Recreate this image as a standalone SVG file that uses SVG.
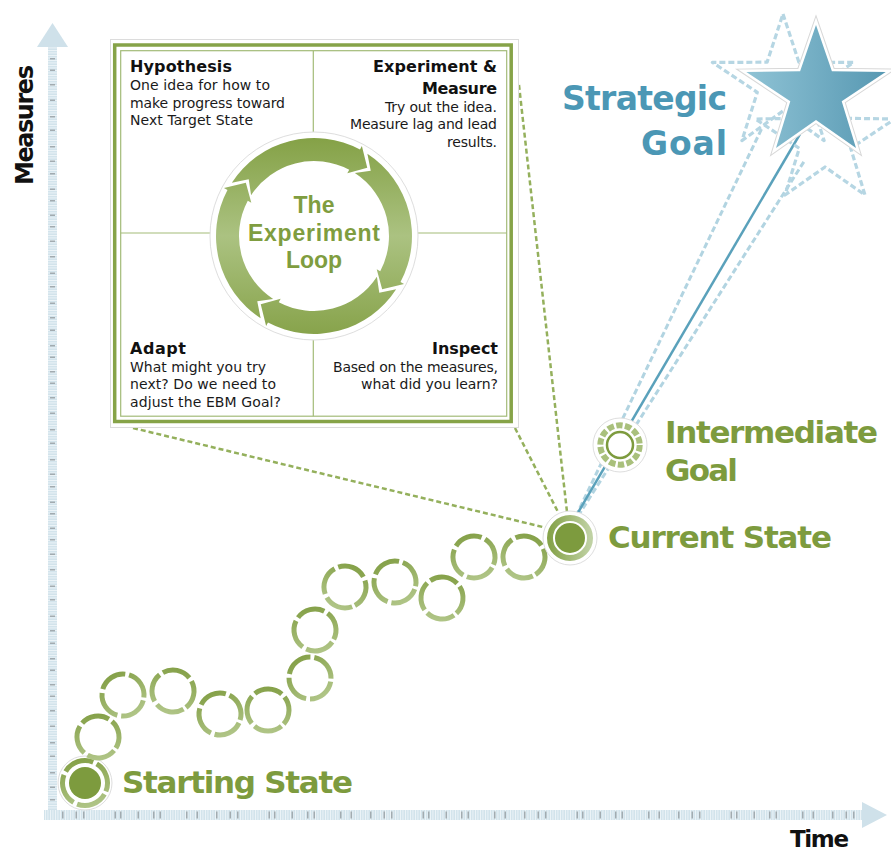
<svg xmlns="http://www.w3.org/2000/svg" width="891" height="852" viewBox="0 0 891 852">
<defs>
<style>
.hd{font-family:"DejaVu Sans",sans-serif;font-weight:bold;font-size:16px;fill:#111}
.bd{font-family:"DejaVu Sans",sans-serif;font-size:14px;fill:#1a1a1a}
.big{font-family:"DejaVu Sans",sans-serif;font-weight:bold;fill:#7d9b3e}
.loopt{font-family:"Liberation Sans",Arial,sans-serif;font-weight:bold;font-size:23px;fill:#7f9d40}
.blue{font-family:"DejaVu Sans",sans-serif;font-weight:bold;fill:#4b97b5;font-size:33px}
.ax{font-family:"DejaVu Sans",sans-serif;font-weight:bold;fill:#111}
.gdash{fill:none;stroke:#94b05c;stroke-width:2.5;stroke-dasharray:5 3}
.bdash{fill:none;stroke:#b2d4e1;stroke-width:3;stroke-dasharray:6 3}
.dstar{fill:none;stroke:#b6d6e3;stroke-width:3.2;stroke-dasharray:6 3;stroke-linejoin:round}
.div{stroke:#a3bb78;stroke-width:1.2;fill:none}
.halo{fill:#fff;stroke:#dedede;stroke-width:1}
.dark{fill:#7d9b3e}
</style>
<linearGradient id="ringGrad" x1="0" y1="0" x2="1" y2="1">
<stop offset="0" stop-color="#7f9c40"/><stop offset="1" stop-color="#b6ca90"/>
</linearGradient>
<linearGradient id="loopGrad" gradientUnits="userSpaceOnUse" x1="0" y1="134" x2="0" y2="338">
<stop offset="0" stop-color="#83a044"/><stop offset="0.5" stop-color="#abc281"/><stop offset="1" stop-color="#86a249"/>
</linearGradient>
<linearGradient id="starGrad" x1="0" y1="0" x2="1" y2="0">
<stop offset="0" stop-color="#8fc3d5"/><stop offset="1" stop-color="#5798b2"/>
</linearGradient>
<linearGradient id="curRing" x1="0" y1="0" x2="1" y2="0">
<stop offset="0" stop-color="#86a34a"/><stop offset="1" stop-color="#bfd1a3"/>
</linearGradient>
<pattern id="vstripe" width="10" height="2.5" patternUnits="userSpaceOnUse"><rect width="10" height="2.5" fill="#d2e3eb"/><rect width="10" height="0.9" fill="#eef5f8"/></pattern>
<pattern id="hstripe" width="2.5" height="10" patternUnits="userSpaceOnUse"><rect width="2.5" height="10" fill="#d2e3eb"/><rect width="0.9" height="10" fill="#eef5f8"/></pattern>
<circle id="ring" r="21" fill="none" stroke="url(#ringGrad)" stroke-width="5" stroke-dasharray="29 4"/>
</defs>
<rect width="891" height="852" fill="#fff"/>

<g id="axes">
<rect x="48" y="46" width="9" height="774" fill="url(#vstripe)"/>
<polygon points="37,47 52.5,23 68,47" fill="#cfe1ea"/>
<rect x="44" y="810" width="819" height="10" fill="url(#hstripe)"/>
<polygon points="862,802 887,815 862,828" fill="#cfe1ea"/>
<line x1="52.5" y1="58" x2="52.5" y2="806" stroke="#a2abb0" stroke-width="5" stroke-dasharray="1.5 10 1.5 13 1.5 14 1.5 15 1.5 12 1.5 15 1.5 13 1.5 11 1.5 14 1.5 10 1.5 13"/>
<line x1="62" y1="815" x2="858" y2="815" stroke="#a2abb0" stroke-width="7" stroke-dasharray="1.5 12 1.5 6 1.5 30 1.5 4 1.5 16 1.5 14 1.5 5 1.5 25 1.5 9 1.5 18"/>
<text class="ax" transform="translate(33,125) rotate(-90)" text-anchor="middle" font-size="24" textLength="120">Measures</text>
<text class="ax" x="790" y="847" font-size="23" textLength="59">Time</text>
</g>

<g id="connectors">
<line class="gdash" x1="519" y1="85" x2="567" y2="512"/>
<line class="gdash" x1="515" y1="428" x2="558" y2="512"/>
<line class="gdash" x1="133" y1="428" x2="547" y2="528"/>
<line class="bdash" x1="576" y1="516" x2="762" y2="128"/>
<line class="bdash" x1="578" y1="516" x2="805" y2="160"/>
<line x1="576" y1="516" x2="800" y2="134" stroke="#5aa1bb" stroke-width="2.5"/>
</g>

<g id="experiment-loop">
<rect x="110.5" y="39.5" width="408" height="388" fill="#fff" stroke="#dcdcdc"/>
<rect x="114.7" y="45" width="396.5" height="376.5" fill="none" stroke="#86a348" stroke-width="3.5"/>
<rect x="120.7" y="50.7" width="386" height="365.5" fill="none" stroke="#a3bb78" stroke-width="1.2"/>
<line class="div" x1="313.3" y1="50.7" x2="313.3" y2="416.2"/>
<line class="div" x1="120.7" y1="233" x2="506.7" y2="233"/>
<circle cx="314" cy="236" r="104" fill="#fff" stroke="#dedede"/>
<g fill="url(#loopGrad)">
<path d="M231.81,182.63 A98,98 0 0 1 360.01,149.48 L361.89,145.94 L367.26,167.84 L347.33,173.31 L349.21,169.78 A75,75 0 0 0 251.10,195.15 L248.72,179.25 Z"/>
<path d="M367.37,153.81 A98,98 0 0 1 400.52,282.01 L404.06,283.89 L382.16,289.26 L376.69,269.33 L380.22,271.21 A75,75 0 0 0 354.85,173.10 L370.75,170.72 Z"/>
<path d="M396.19,289.37 A98,98 0 0 1 267.99,322.52 L266.11,326.06 L260.74,304.16 L280.67,298.69 L278.79,302.22 A75,75 0 0 0 376.90,276.85 L379.28,292.75 Z"/>
<path d="M260.63,318.19 A98,98 0 0 1 227.48,189.99 L223.94,188.11 L245.84,182.74 L251.31,202.67 L247.78,200.79 A75,75 0 0 0 273.15,298.90 L257.25,301.28 Z"/>
</g>
<text class="loopt" x="314" y="213" text-anchor="middle">The</text>
<text class="loopt" x="314" y="241" text-anchor="middle" textLength="132">Experiment</text>
<text class="loopt" x="314" y="268" text-anchor="middle">Loop</text>

<text class="hd" x="130" y="72" textLength="102">Hypothesis</text>
<text class="bd" x="130" y="90" textLength="140">One idea for how to</text>
<text class="bd" x="130" y="107.5" textLength="155">make progress toward</text>
<text class="bd" x="130" y="124.5" textLength="123">Next Target State</text>

<text class="hd" x="497" y="72" text-anchor="end" textLength="124">Experiment &amp;</text>
<text class="hd" x="497" y="94" text-anchor="end" textLength="75">Measure</text>
<text class="bd" x="497" y="111.5" text-anchor="end" textLength="112">Try out the idea.</text>
<text class="bd" x="497" y="129" text-anchor="end" textLength="147">Measure lag and lead</text>
<text class="bd" x="497" y="146.5" text-anchor="end" textLength="50">results.</text>

<text class="hd" x="130" y="353.5" textLength="56">Adapt</text>
<text class="bd" x="130" y="371.5" textLength="136">What might you try</text>
<text class="bd" x="130" y="388.5" textLength="146">next? Do we need to</text>
<text class="bd" x="130" y="406.5" textLength="151">adjust the EBM Goal?</text>

<text class="hd" x="498" y="353.5" text-anchor="end" textLength="66">Inspect</text>
<text class="bd" x="498" y="371.5" text-anchor="end" textLength="165">Based on the measures,</text>
<text class="bd" x="498" y="388.5" text-anchor="end" textLength="137">what did you learn?</text>
</g>

<g id="starting-state">
<circle class="halo" cx="85" cy="783" r="27"/>
<circle cx="85" cy="783" r="22.5" fill="none" stroke="url(#ringGrad)" stroke-width="5" stroke-dasharray="31.3 4" transform="rotate(30 85 783)"/>
<circle class="dark" cx="85" cy="783" r="16"/>
<text class="big" x="122" y="793" font-size="31" textLength="231">Starting State</text>
</g>

<g id="steps">
<g id="step-1"><use href="#ring" transform="translate(98,737) rotate(40)"/></g>
<g id="step-2"><use href="#ring" transform="translate(123,695) rotate(15)"/></g>
<g id="step-3"><use href="#ring" transform="translate(173,691) rotate(60)"/></g>
<g id="step-4"><use href="#ring" transform="translate(220,714) rotate(25)"/></g>
<g id="step-5"><use href="#ring" transform="translate(268,710) rotate(50)"/></g>
<g id="step-6"><use href="#ring" transform="translate(310,678) rotate(10)"/></g>
<g id="step-7"><use href="#ring" transform="translate(315,630) rotate(35)"/></g>
<g id="step-8"><use href="#ring" transform="translate(345,587) rotate(70)"/></g>
<g id="step-9"><use href="#ring" transform="translate(395,582) rotate(20)"/></g>
<g id="step-10"><use href="#ring" transform="translate(442,598) rotate(55)"/></g>
<g id="step-11"><use href="#ring" transform="translate(474,557) rotate(30)"/></g>
<g id="step-12"><use href="#ring" transform="translate(524,557) rotate(65)"/></g>
</g>

<g id="current-state">
<circle class="halo" cx="570" cy="538" r="27"/>
<circle cx="570" cy="538" r="20" fill="none" stroke="url(#curRing)" stroke-width="6"/>
<circle class="dark" cx="570" cy="538" r="15"/>
<text class="big" x="608" y="548" font-size="31" textLength="224">Current State</text>
</g>

<g id="intermediate-goal">
<circle class="halo" cx="620" cy="445" r="27"/>
<circle cx="620" cy="445" r="19.7" fill="none" stroke="#a9c07c" stroke-width="6" stroke-dasharray="6.5 2.34"/>
<circle cx="620" cy="445" r="13" fill="#fff" stroke="#7d9b3e" stroke-width="2.5"/>
<text class="big" x="665" y="443" font-size="31" textLength="213">Intermediate</text>
<text class="big" x="665" y="481" font-size="31" textLength="73">Goal</text>
</g>

<g id="strategic-goal">
<polygon class="dstar" points="783,14 798.9,62.2 853.6,62.4 808.7,92.3 824.1,140.6 783,111 741.9,140.6 757.3,92.3 712.4,62.4 767.1,62.2"/>
<polygon class="dstar" points="825,72 840.9,118.2 894.7,119 850.7,148.3 865,195 825,167 785,195 799.3,148.3 755.3,119 809.1,118.2"/>
<polygon points="816,25 831.9,71.2 885.7,72 841.7,101.3 856,148 816,120 776,148 790.3,101.3 746.3,72 800.1,71.2" fill="none" stroke="#d8d8d8" stroke-width="7" stroke-linejoin="miter"/>
<polygon points="816,25 831.9,71.2 885.7,72 841.7,101.3 856,148 816,120 776,148 790.3,101.3 746.3,72 800.1,71.2" fill="url(#starGrad)" stroke="#fff" stroke-width="5" stroke-linejoin="miter"/>
<polygon points="816,25 831.9,71.2 885.7,72 841.7,101.3 856,148 816,120 776,148 790.3,101.3 746.3,72 800.1,71.2" fill="url(#starGrad)"/>
<text class="blue" x="727" y="110" text-anchor="end" textLength="165">Strategic</text>
<text class="blue" x="727" y="155" text-anchor="end" textLength="86">Goal</text>
</g>
</svg>
